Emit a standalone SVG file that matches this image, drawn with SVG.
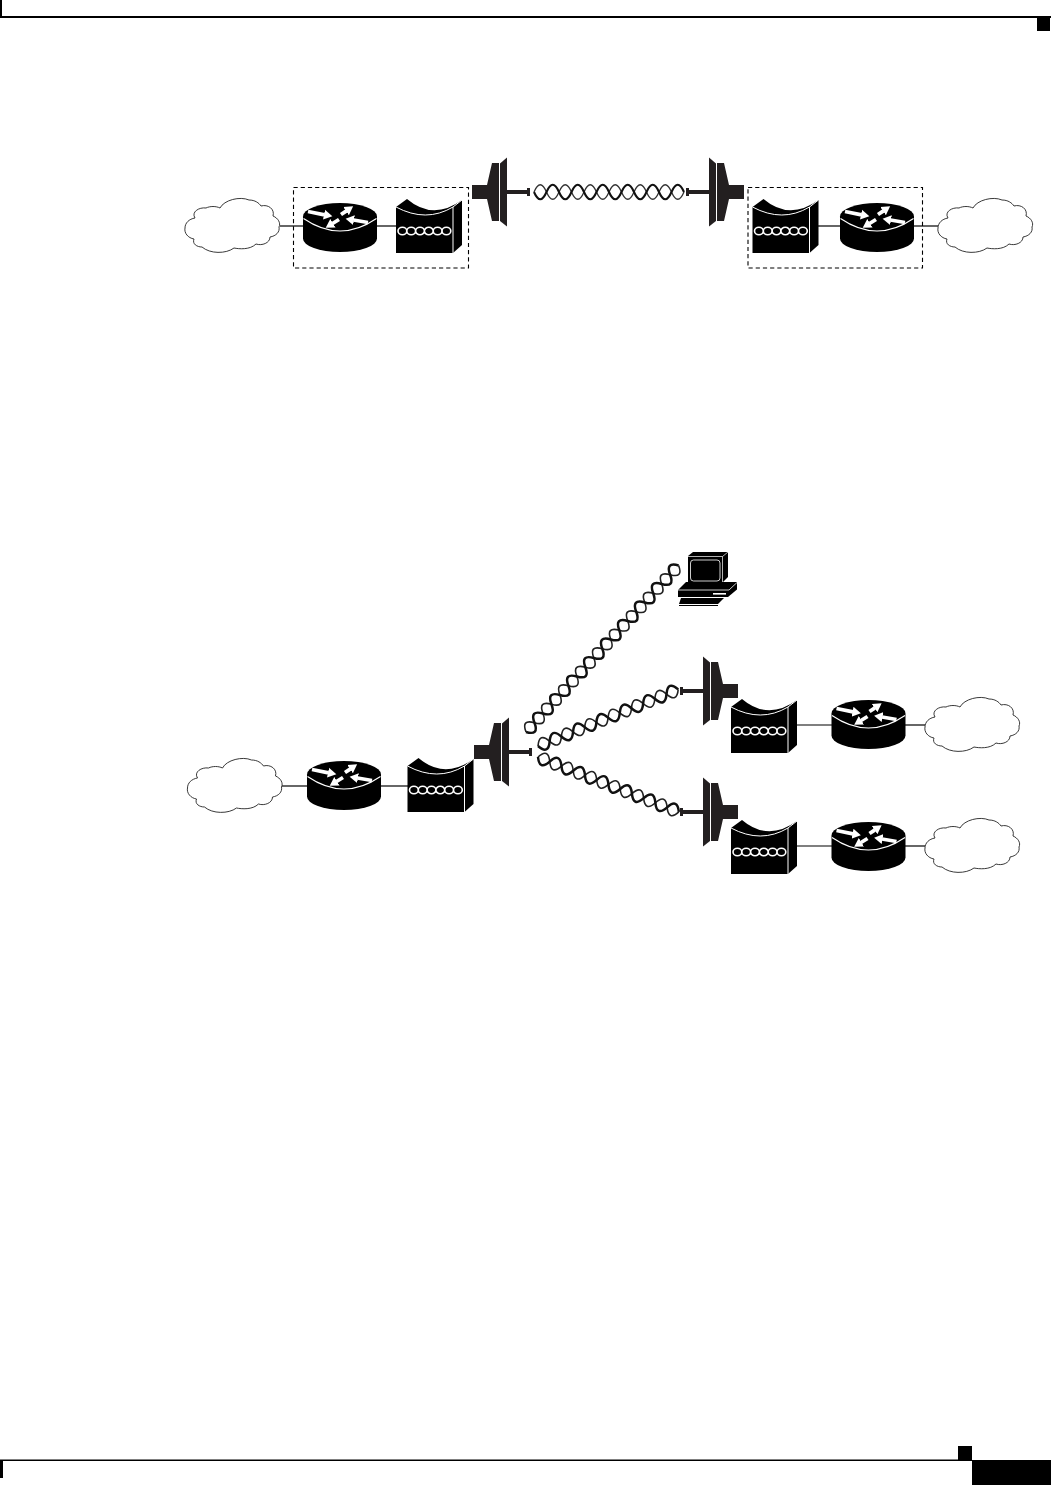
<svg xmlns="http://www.w3.org/2000/svg" width="1051" height="1485" viewBox="0 0 1051 1485">
<style>
.page{fill:#000}
.link{stroke:#000;stroke-width:1.2;fill:none}
.cloud{fill:#fff;stroke:#222;stroke-width:0.9}
.dish{fill:#231f20}
.thick{fill:none;stroke:#111;stroke-width:2.5}
.thin{fill:none;stroke:#222;stroke-width:1.6}
.thickT{fill:none;stroke:#111;stroke-width:2.1}
.thinT{fill:none;stroke:#333;stroke-width:1.3}
.dash{fill:none;stroke:#000;stroke-width:1.1;stroke-dasharray:4.2 3}
.w{fill:none;stroke:#fff}
</style>
<defs>
<marker id="ah" markerUnits="userSpaceOnUse" markerWidth="9" markerHeight="11" refX="0.5" refY="5.5" orient="auto"><path d="M0,0.5 L8.5,5.5 L0,10.5z" fill="#fff"/></marker>
<g id="router">
<path d="M-37,0 A37,13.5 0 0 1 37,0 V22 A37,13.5 0 0 1 -37,22Z" fill="#000"/>
<path class="w" stroke-width="1.1" d="M-36.5,2 Q0,27 36.5,2"/>
<g class="w" stroke-width="3.8">
<line x1="-32" y1="-5" x2="-15.5" y2="-1.7" marker-end="url(#ah)"/>
<line x1="1" y1="-2" x2="6.5" y2="-5.7" marker-end="url(#ah)"/>
<line x1="-1" y1="3" x2="-7.5" y2="7" marker-end="url(#ah)"/>
<line x1="28" y1="6" x2="13.5" y2="3.5" marker-end="url(#ah)"/>
</g>
</g>
<g id="mux">
<path d="M0,-46 L11,-54 Q37,-32 66,-53 V-8 L57,0 H0Z" fill="#000"/>
<path class="w" stroke-width="1" d="M0,-46 Q30,-30 57,-46 L66,-53 M57,-46 V0"/>
<path class="w" stroke-width="1.6" d="M2,-22 a4.4,3.8 0 1 1 8.8,0 a4.4,3.8 0 1 1 -8.8,0 m8.8,0 a4.4,3.8 0 1 1 8.8,0 a4.4,3.8 0 1 1 -8.8,0 m8.8,0 a4.4,3.8 0 1 1 8.8,0 a4.4,3.8 0 1 1 -8.8,0 m8.8,0 a4.4,3.8 0 1 1 8.8,0 a4.4,3.8 0 1 1 -8.8,0 m8.8,0 a4.4,3.8 0 1 1 8.8,0 a4.4,3.8 0 1 1 -8.8,0 m8.8,0 a4.4,3.8 0 1 1 8.8,0 a4.4,3.8 0 1 1 -8.8,0"/>
</g>
<g id="dish" class="dish">
<path d="M-35,-7 H-20 L-15,-29 H-8 V29 H-15 L-20,7 H-35Z"/>
<path d="M-7,-28.5 L0,-34.5 V34.5 L-7,29Z"/>
<rect x="0" y="-2" width="20" height="4"/>
<rect x="20" y="-4" width="3" height="8"/>
</g>
<path id="cloudShape" class="cloud" d="M-47,2 C-47,-3 -43,-7 -37,-8 C-41,-14 -33,-19 -26,-18 C-22,-20 -16,-20 -12,-18 C-8,-26 8,-30 17,-26 C23,-26 27,-23 29,-20 C36,-22 43,-17 41,-10 C46,-8 49,-3 47,1 C48,6 44,10 38,11 C38,17 30,20 24,18 C18,24 7,23 2,22 C-6,28 -22,28 -30,21 C-35,21 -40,18 -38,13 C-44,12 -48,7 -47,2Z"/>
<g id="cable18">
<path class="thin" d="M0,0 q6.27,-12.5 12.55,0 t12.55,0 t12.55,0 t12.55,0 t12.55,0 t12.55,0 t12.55,0 t12.55,0 t12.55,0 t12.55,0 t12.55,0 t12.55,0 t12.55,0 t12.55,0 t12.55,0 t12.55,0 t12.55,0 t12.55,0"/>
<path class="thick" d="M0,0 q6.27,12.5 12.55,0 t12.55,0 t12.55,0 t12.55,0 t12.55,0 t12.55,0 t12.55,0 t12.55,0 t12.55,0 t12.55,0 t12.55,0 t12.55,0 t12.55,0 t12.55,0 t12.55,0 t12.55,0 t12.55,0 t12.55,0"/>
</g>
<g id="cable12">
<path class="thin" d="M0,0 q6.3,-12.5 12.6,0 t12.6,0 t12.6,0 t12.6,0 t12.6,0 t12.6,0 t12.6,0 t12.6,0 t12.6,0 t12.6,0 t12.6,0 t12.6,0"/>
<path class="thick" d="M0,0 q6.3,12.5 12.6,0 t12.6,0 t12.6,0 t12.6,0 t12.6,0 t12.6,0 t12.6,0 t12.6,0 t12.6,0 t12.6,0 t12.6,0 t12.6,0"/>
</g>
</defs>
<rect width="1051" height="1485" fill="#fff"/>
<g id="page-furniture">
<rect class="page" x="0" y="16" width="1051" height="2"/>
<rect class="page" x="0" y="0" width="2" height="17"/>
<rect class="page" x="1037" y="18" width="13" height="13"/>
<rect class="page" x="0" y="1459.5" width="972" height="1.5"/>
<rect class="page" x="0" y="1460" width="3" height="18"/>
<rect class="page" x="958" y="1446" width="14" height="14"/>
<rect class="page" x="972" y="1460" width="79" height="25"/>
</g>
<g id="connectors">
<line class="link" x1="280" y1="226" x2="303" y2="226"/>
<line class="link" x1="377" y1="226" x2="396" y2="226"/>
<line class="link" x1="818" y1="226" x2="840" y2="226"/>
<line class="link" x1="914" y1="226" x2="938" y2="226"/>
<line class="link" x1="282" y1="786" x2="307" y2="786"/>
<line class="link" x1="381" y1="786" x2="408" y2="786"/>
<line class="link" x1="797" y1="725" x2="832" y2="725"/>
<line class="link" x1="905" y1="725" x2="925" y2="725"/>
<line class="link" x1="797" y1="846" x2="832" y2="846"/>
<line class="link" x1="905" y1="846" x2="925" y2="846"/>
<g id="cable-top" transform="translate(534 192)">
<path class="thinT" d="M0,0 q6.25,-14.5 12.5,0 t12.5,0 t12.5,0 t12.5,0 t12.5,0 t12.5,0 t12.5,0 t12.5,0 t12.5,0 t12.5,0 t12.5,0 t12.5,0"/>
<path class="thickT" d="M0,0 q6.25,14.5 12.5,0 t12.5,0 t12.5,0 t12.5,0 t12.5,0 t12.5,0 t12.5,0 t12.5,0 t12.5,0 t12.5,0 t12.5,0 t12.5,0"/>
</g>
<use id="cable-pc" href="#cable18" transform="translate(526 732) rotate(-47.5)"/>
<use id="cable-mid" href="#cable12" transform="translate(538 746) rotate(-22)"/>
<use id="cable-low" href="#cable12" transform="translate(538 757) rotate(21.3)"/>
</g>
<g id="group-a"><rect class="dash" x="293.5" y="187.5" width="175" height="80.5"/></g>
<g id="group-b"><rect class="dash" x="748" y="187.5" width="174.5" height="80.5"/></g>
<g id="cloud-a"><use href="#cloudShape" x="232" y="226"/></g>
<g id="router-a"><use href="#router" x="340" y="216.5"/></g>
<g id="mux-a"><use href="#mux" x="396" y="253"/></g>
<g id="dish-a"><use href="#dish" transform="translate(507 192)"/></g>
<g id="dish-b"><use href="#dish" transform="translate(709 192) scale(-1 1)"/></g>
<g id="mux-b"><use href="#mux" x="752.5" y="253"/></g>
<g id="router-b"><use href="#router" x="877" y="216.5"/></g>
<g id="cloud-b"><use href="#cloudShape" x="985" y="226"/></g>
<g id="cloud-c"><use href="#cloudShape" x="234.5" y="786"/></g>
<g id="router-c"><use href="#router" x="344" y="774.5"/></g>
<g id="mux-c"><use href="#mux" x="407.5" y="812"/></g>
<g id="dish-c"><use href="#dish" transform="translate(509 752)"/></g>
<g id="dish-d"><use href="#dish" transform="translate(703 691) scale(-1 1)"/></g>
<g id="mux-d"><use href="#mux" x="731" y="753"/></g>
<g id="router-d"><use href="#router" x="868.5" y="713.5"/></g>
<g id="cloud-d"><use href="#cloudShape" x="972" y="725"/></g>
<g id="dish-e"><use href="#dish" transform="translate(703 812) scale(-1 1)"/></g>
<g id="mux-e"><use href="#mux" x="731" y="874"/></g>
<g id="router-e"><use href="#router" x="868.5" y="835.5"/></g>
<g id="cloud-e"><use href="#cloudShape" x="972" y="846"/></g>
<g id="computer">
<path d="M688,556 L693,552 H728 V577 L722,583 H688Z" fill="#000"/>
<path class="w" stroke-width="0.7" d="M688,556.5 H722.5 L728,552 M722.5,556.5 V583"/>
<rect class="w" stroke-width="0.8" x="690.5" y="560" width="29.5" height="21" rx="3"/>
<path d="M678,590 L686,582 H737 V589.5 L728,597 H678Z" fill="#000"/>
<path class="w" stroke-width="0.8" d="M678,590 H729 L737,582.5"/>
<rect x="713" y="593" width="13" height="1.6" fill="#fff"/>
<path d="M681,598 H724 L718,604 H679Z" fill="#000"/>
<rect x="679" y="605" width="39" height="1" fill="#000"/>
</g>
</svg>
